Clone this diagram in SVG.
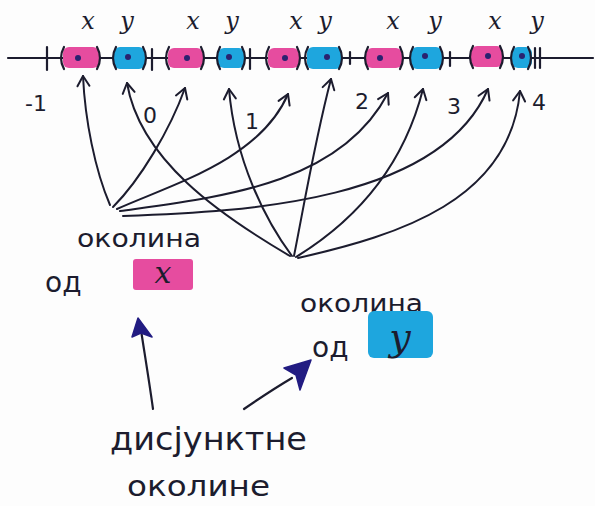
<svg xmlns="http://www.w3.org/2000/svg" width="595" height="506" viewBox="0 0 595 506">
  <style>
    .ink { fill: none; stroke: #1c1c2e; stroke-width: 2.2; stroke-linecap: round; stroke-linejoin: round; }
    .pink { fill: #e64c9f; }
    .blue { fill: #1ea6de; }
    .dot { fill: #2a2270; }
    .lbl { font-family: "DejaVu Serif", "Liberation Serif", serif; font-style: italic; fill: #1c1c2e; }
    .hand { font-family: "DejaVu Sans", "Liberation Sans", sans-serif; fill: #1c1c2e; }
    .conn { fill: none; stroke: #1c1c2e; stroke-width: 2; stroke-linecap: round; marker-end: url(#chev); }
    .big { fill: none; stroke: #1c1c2e; stroke-width: 2.2; stroke-linecap: round; }
    .head { fill: #221c82; stroke: #221c82; stroke-width: 1.5; stroke-linejoin: round; }
  </style>
  <defs>
    <marker id="chev" markerUnits="userSpaceOnUse" markerWidth="16" markerHeight="16" viewBox="-12 -8 14 16" refX="0" refY="0" orient="auto">
      <path d="M-10,-6 L0,0 L-10,6" fill="none" stroke="#1c1c2e" stroke-width="2" stroke-linecap="round" stroke-linejoin="round"/>
    </marker>
    <!-- parentheses that bound each neighbourhood -->
    <path id="lpar" d="M4,-11 Q-2,0 4,11" fill="none" stroke="#1c1c2e" stroke-width="2.2" stroke-linecap="round"/>
    <path id="rpar" d="M-4,-11 Q2,0 -4,11" fill="none" stroke="#1c1c2e" stroke-width="2.2" stroke-linecap="round"/>
  </defs>

  <rect width="595" height="506" fill="#fdfdfd"/>

  <!-- real line with integer ticks -->
  <g id="number-line">
    <line class="ink" x1="8" y1="58" x2="593" y2="58"/>
    <line class="ink" x1="47" y1="47" x2="47" y2="70"/>
    <line class="ink" x1="152" y1="49" x2="152" y2="70"/>
    <line class="ink" x1="250" y1="49" x2="250" y2="69"/>
    <line class="ink" x1="350" y1="52" x2="350" y2="64"/>
    <line class="ink" x1="450" y1="52" x2="450" y2="66"/>
    <line class="ink" x1="535" y1="48" x2="535" y2="68"/>
    <line class="ink" x1="540" y1="48" x2="540" y2="68"/>
    <g class="hand" font-size="22">
      <text x="25" y="111">-1</text>
      <text x="143" y="123">0</text>
      <text x="245" y="129">1</text>
      <text x="355" y="109">2</text>
      <text x="447" y="114">3</text>
      <text x="532" y="110">4</text>
    </g>
  </g>

  <!-- neighbourhoods of x (pink) -->
  <g id="nx1"><rect class="pink" x="63" y="47" width="36" height="21" rx="6"/><use href="#lpar" x="60" y="58"/><use href="#rpar" x="101" y="58"/><circle class="dot" cx="78" cy="58" r="3"/></g>
  <g id="nx2"><rect class="pink" x="168" y="48" width="35" height="20" rx="6"/><use href="#lpar" x="165" y="58"/><use href="#rpar" x="205" y="58"/><circle class="dot" cx="187" cy="58" r="3"/></g>
  <g id="nx3"><rect class="pink" x="268" y="48" width="31" height="20" rx="6"/><use href="#lpar" x="265" y="58"/><use href="#rpar" x="301" y="58"/><circle class="dot" cx="285" cy="58" r="3"/></g>
  <g id="nx4"><rect class="pink" x="366" y="48" width="36" height="20" rx="6"/><use href="#lpar" x="364" y="58"/><use href="#rpar" x="404" y="58"/><circle class="dot" cx="380" cy="58" r="3"/></g>
  <g id="nx5"><rect class="pink" x="471" y="46" width="32" height="21" rx="6"/><use href="#lpar" x="469" y="57"/><use href="#rpar" x="504" y="57"/><circle class="dot" cx="488" cy="56" r="3"/></g>

  <!-- neighbourhoods of y (blue) -->
  <g id="ny1"><rect class="blue" x="114" y="47" width="31" height="22" rx="6"/><use href="#lpar" x="112" y="58"/><use href="#rpar" x="147" y="58"/><circle class="dot" cx="128" cy="57" r="3"/></g>
  <g id="ny2"><rect class="blue" x="218" y="48" width="27" height="20" rx="6"/><use href="#lpar" x="216" y="58"/><use href="#rpar" x="246" y="58"/><circle class="dot" cx="229" cy="57" r="3"/></g>
  <g id="ny3"><rect class="blue" x="307" y="47" width="35" height="22" rx="6"/><use href="#lpar" x="304" y="58"/><use href="#rpar" x="343" y="58"/><circle class="dot" cx="327" cy="57" r="3"/></g>
  <g id="ny4"><rect class="blue" x="411" y="47" width="31" height="22" rx="6"/><use href="#lpar" x="409" y="58"/><use href="#rpar" x="444" y="58"/><circle class="dot" cx="425" cy="56" r="3"/></g>
  <g id="ny5"><rect class="blue" x="512" y="47" width="20" height="21" rx="6"/><use href="#lpar" x="510" y="58"/><use href="#rpar" x="532" y="58"/><circle class="dot" cx="522" cy="56" r="3"/></g>

  <!-- point names above the line -->
  <g id="point-labels" class="lbl" font-size="24" text-anchor="middle">
    <text x="88" y="29">x</text><text x="127" y="29">y</text>
    <text x="193" y="29">x</text><text x="232" y="29">y</text>
    <text x="296" y="29">x</text><text x="325" y="29">y</text>
    <text x="393" y="29">x</text><text x="435" y="29">y</text>
    <text x="495" y="29">x</text><text x="537" y="29">y</text>
  </g>

  <!-- connectors from each caption to its neighbourhoods -->
  <g id="connectors">
    <path class="conn" d="M110,205 C95,170 85,120 83,76"/>
    <path class="conn" d="M113,207 C140,180 170,130 185,88"/>
    <path class="conn" d="M117,209 C170,185 260,160 288,94"/>
    <path class="conn" d="M120,211 C220,197 340,185 388,93"/>
    <path class="conn" d="M123,216 C250,212 440,200 488,89"/>

    <path class="conn" d="M290,256 C220,215 140,160 127,83"/>
    <path class="conn" d="M292,256 C265,220 235,160 229,89"/>
    <path class="conn" d="M294,256 C305,200 315,140 331,79"/>
    <path class="conn" d="M296,257 C340,230 400,180 423,89"/>
    <path class="conn" d="M298,258 C400,235 510,200 520,91"/>

    <path class="big" d="M153,409 C149,380 144,350 141,330"/>
    <path class="head" d="M138,318 L132,337 L141,333 L152,337 Z"/>
    <path class="big" d="M244,409 C260,398 275,388 292,378"/>
    <path class="head" d="M311,360 L284,368 L296,375 L300,390 Z"/>
  </g>

  <!-- caption: neighbourhood of x -->
  <g id="caption-x">
    <text class="hand" x="77" y="247" font-size="24" textLength="124" lengthAdjust="spacingAndGlyphs">околина</text>
    <text class="hand" x="45" y="292" font-size="28">од</text>
    <rect class="pink" x="133" y="259" width="60" height="31" rx="3"/>
    <text class="lbl" x="163" y="283" font-size="30" text-anchor="middle" fill="#3a1450">x</text>
  </g>

  <!-- caption: neighbourhood of y -->
  <g id="caption-y">
    <text class="hand" x="300" y="312" font-size="24" textLength="123" lengthAdjust="spacingAndGlyphs">околина</text>
    <text class="hand" x="312" y="357" font-size="28">од</text>
    <rect class="blue" x="368" y="311" width="65" height="47" rx="6"/>
    <text class="lbl" x="400" y="350" font-size="38" text-anchor="middle" fill="#1b1f5a">y</text>
  </g>

  <!-- caption: disjoint neighbourhoods -->
  <g id="caption-disjoint">
    <text class="hand" x="110" y="450" font-size="32" textLength="197" lengthAdjust="spacingAndGlyphs">дисјунктне</text>
    <text class="hand" x="127" y="496" font-size="28" textLength="143" lengthAdjust="spacingAndGlyphs">околине</text>
  </g>
</svg>
